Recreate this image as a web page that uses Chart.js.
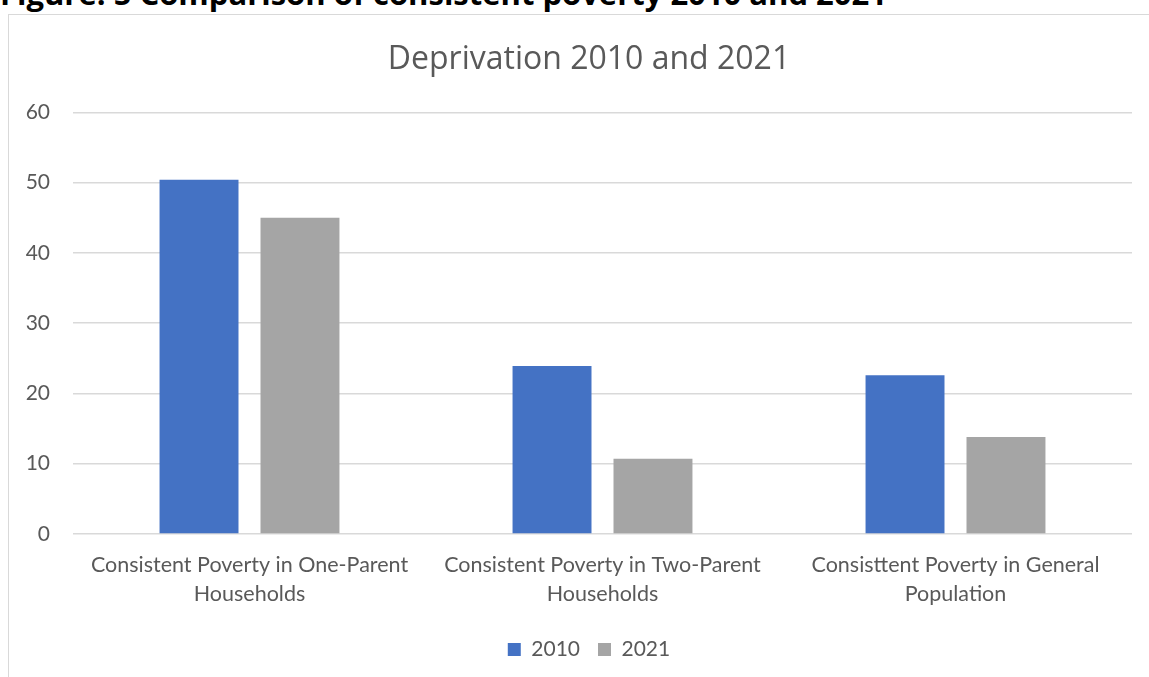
<!DOCTYPE html>
<html>
<head>
<meta charset="utf-8">
<title>Deprivation 2010 and 2021</title>
<script src="https://cdn.jsdelivr.net/npm/chart.js@4/dist/chart.umd.min.js"></script>
<style>
  body { margin: 0; background: #fff; overflow: hidden; }
  #caption {
    position: absolute; left: 0; top: -28px;
    font: bold 31px 'Open Sans', sans-serif; color: #000; white-space: nowrap;
  }
  #frame {
    position: absolute; left: 8px; top: 14px; width: 1200px; height: 700px;
    border-left: 1px solid #d9d9d9; border-top: 1px solid #d9d9d9;
  }
  #chart { position: absolute; left: 0; top: 0; }
</style>
</head>
<body>
<div id="caption">Figure: 5 Comparison of consistent poverty 2010 and 2021</div>
<div id="frame"><canvas id="chart" width="1160" height="662"></canvas></div>
<script>
const categories = [
  ['Consistent Poverty in One-Parent', 'Households'],
  ['Consistent Poverty in Two-Parent', 'Households'],
  ['Consisttent Poverty in General', 'Population']
];
const years = ['2010', '2021'];
const values2010 = [50.4, 23.9, 22.6];
const values2021 = [45.0, 10.7, 13.8];
const yTicks = [0, 10, 20, 30, 40, 50, 60];

const textGrey = '#595959';
const font = 'Lato';

const ctx = document.getElementById('chart').getContext('2d');
const myChart = new Chart(ctx, {
  type: 'bar',
  data: {
    labels: categories,
    datasets: [{
      label: years[0],
      data: values2010,
      backgroundColor: '#4472C4',
      categoryPercentage: 0.572,
      barPercentage: 0.782
    }, {
      label: years[1],
      data: values2021,
      backgroundColor: '#A5A5A5',
      categoryPercentage: 0.572,
      barPercentage: 0.782
    }]
  },
  options: {
    responsive: false,
    animation: false,
    layout: { padding: { left: 0, right: 0, top: 0, bottom: 7 } },
    plugins: {
      title: {
        display: true,
        text: 'Deprivation 2010 and 2021',
        color: textGrey,
        font: { family: 'Open Sans', size: 32, weight: 'normal' },
        padding: { top: 26, bottom: 33 }
      },
      legend: {
        position: 'bottom',
        labels: {
          color: textGrey,
          font: { family: font, size: 21 },
          boxWidth: 13,
          boxHeight: 13,
          padding: 18
        }
      },
      tooltip: { enabled: false }
    },
    scales: {
      x: {
        grid: { display: false },
        border: { display: false },
        ticks: {
          color: textGrey,
          font: { family: font, size: 21.5, lineHeight: 1.33 },
          padding: 9,
          maxRotation: 0,
          autoSkip: false
        },
        afterFit: scale => { scale.height = 87; }
      },
      y: {
        min: 0,
        max: 60,
        afterBuildTicks: scale => { scale.ticks = yTicks.map(v => ({ value: v })); },
        grid: { color: '#d9d9d9', lineWidth: 1.5, drawTicks: false },
        border: { display: false },
        ticks: {
          color: textGrey,
          font: { family: font, size: 21 },
          padding: 23
        },
        afterFit: scale => { scale.width = 64; }
      },
      // empty right-hand margin so the title and legend centre on the full width
      spacer: {
        position: 'right',
        grid: { display: false },
        border: { display: false },
        ticks: { display: false },
        afterFit: scale => { scale.width = 37; }
      }
    }
  }
});
</script>
</body>
</html>
